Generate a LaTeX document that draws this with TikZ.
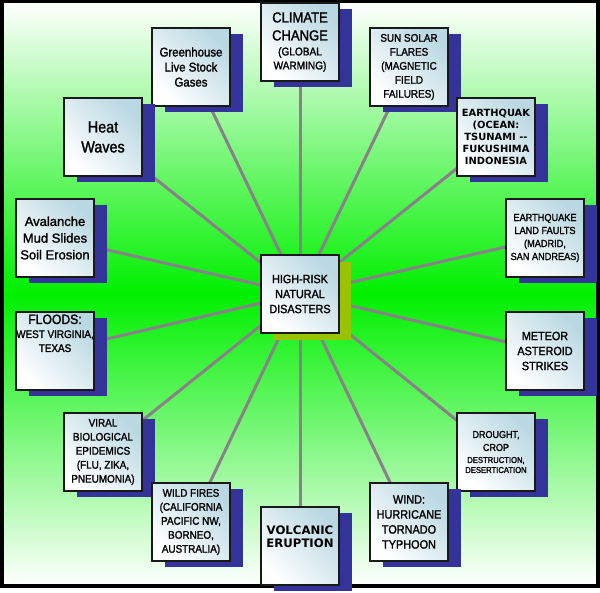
\documentclass[tikz,border=0pt]{standalone}
\usepackage{fontspec}
\setmainfont{Liberation Sans}
\newfontfamily\fa[FakeStretch=0.9,FakeBold=1.6]{Liberation Sans}
\newfontfamily\fb[FakeBold=1.6]{Liberation Sans}
\newfontfamily\fdv{DejaVu Sans}
\usetikzlibrary{shadows}
\definecolor{shadowblue}{RGB}{51,51,153}
\definecolor{olivec}{RGB}{153,194,0}
\definecolor{boxblue}{RGB}{186,216,226}
\definecolor{boxline}{RGB}{25,25,25}
\definecolor{edgegray}{RGB}{138,128,138}
\definecolor{bggreen}{RGB}{0,240,0}
\newcommand\fsz[2]{\fontsize{#1}{#2}\selectfont}
\pgfdeclarelayer{bgl}
\pgfdeclarelayer{edgel}
\pgfsetlayers{bgl,edgel,main}
\tikzset{
  boxbase/.style={draw=boxline, line width=1.3pt, minimum width=78pt, minimum height=78pt,
    inner sep=0pt, align=center, top color=boxblue, bottom color=white, shading angle=-45},
  box/.style={boxbase, drop shadow={shadow xshift=13pt, shadow yshift=-6pt, opacity=1, fill=shadowblue}},
  hubbox/.style={boxbase, drop shadow={shadow xshift=12pt, shadow yshift=-7pt, opacity=1, fill=olivec}},
  spoke/.style={draw=edgegray, line width=3pt},
  frame/.style={draw=black, line width=4pt}
}
\begin{document}
\begin{tikzpicture}[x=1pt,y=-1pt]
\useasboundingbox (0,0) rectangle (600,593);
\begin{pgfonlayer}{bgl}
  \shade[frame, top color=white, bottom color=white, middle color=bggreen] (1.5,1.5) rectangle (598,586);
\end{pgfonlayer}

\node[box, font=\fa\fsz{11.2}{14}] (climate) at (300,42)
  {{\fsz{14.5}{14}CLIMATE}\\[4pt]{\fsz{14.5}{14}CHANGE}\\[1pt](GLOBAL\\WARMING)};
\node[box, font=\fa\fsz{12.7}{15}] (greenhouse) at (191,67) {Greenhouse\\Live Stock\\Gases};
\node[box, font=\fa\fsz{11}{14}] (sun) at (409,67) {SUN SOLAR\\FLARES\\(MAGNETIC\\FIELD\\FAILURES)};
\node[box, font=\fa\fsz{16}{20}] (heat) at (103,137) {Heat\\Waves};
\node[box, font=\fdv\bfseries\fsz{9.9}{11.8}] (ocean) at (496,137) {EARTHQUAK\\(OCEAN:\\TSUNAMI -{}-\\FUKUSHIMA\\INDONESIA};
\node[box, font=\fb\fsz{13}{16.7}] (avalanche) at (55,238) {Avalanche\\Mud Slides\\Soil Erosion};
\node[box, font=\fa\fsz{10.2}{13}] (land) at (545,238) {EARTHQUAKE\\LAND FAULTS\\(MADRID,\\SAN ANDREAS)};
\node[box] (floods) at (55,351) {};
\node[anchor=north, inner sep=0pt, align=center, font=\fa\fsz{11}{14}] (floodstext) at ([yshift=-3pt]floods.north)
  {{\fsz{13.5}{14}FLOODS:}\\WEST VIRGINIA,\\TEXAS};
\node[box, font=\fa\fsz{12}{15}] (meteor) at (545,351) {METEOR\\ASTEROID\\STRIKES};
\node[box, font=\fa\fsz{11}{14}] (viral) at (103,452) {VIRAL\\BIOLOGICAL\\EPIDEMICS\\(FLU, ZIKA,\\PNEUMONIA)};
\node[box, font=\fa\fsz{10}{13}] (drought) at (496,452)
  {DROUGHT,\\CROP\\[-1pt]{\fsz{8.5}{10}DESTRUCTION,}\\[-3pt]{\fsz{8.5}{10}DESERTICATION}};
\node[box, font=\fa\fsz{11}{14}] (fires) at (191,522) {WILD FIRES\\(CALIFORNIA\\PACIFIC NW,\\BORNEO,\\AUSTRALIA)};
\node[box, font=\fa\fsz{12.1}{15}] (wind) at (409,522) {WIND:\\HURRICANE\\TORNADO\\TYPHOON};
\node[box, font=\fdv\bfseries\fsz{11.7}{12.5}] (volcanic) at (300,546) {VOLCANIC\\ERUPTION\\[6pt]};
\node[hubbox, font=\fa\fsz{12}{15}] (hub) at (300,294) {HIGH-RISK\\NATURAL\\DISASTERS};

\begin{pgfonlayer}{edgel}
  \foreach \n in {climate,greenhouse,sun,heat,ocean,avalanche,land,floods,meteor,viral,drought,fires,wind,volcanic}
    \draw[spoke] (hub.center) -- (\n.center);
\end{pgfonlayer}
\end{tikzpicture}
\end{document}
